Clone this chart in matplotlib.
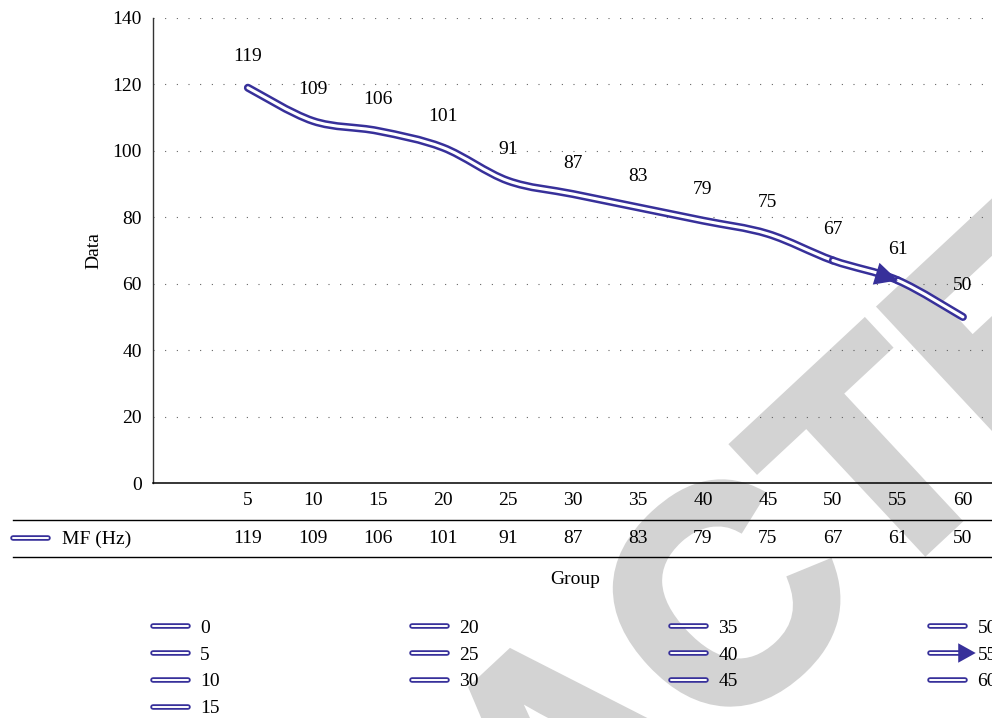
import matplotlib
matplotlib.use('Agg')
import matplotlib.pyplot as plt
import matplotlib.patheffects as pe
import matplotlib.transforms as mtransforms
from matplotlib.path import Path
from matplotlib.patches import PathPatch
from matplotlib.lines import Line2D
from matplotlib.legend_handler import HandlerLine2D

# MF measured per group
groups = [5, 10, 15, 20, 25, 30, 35, 40, 45, 50, 55, 60]
mf_hz = [119, 109, 106, 101, 91, 87, 83, 79, 75, 67, 61, 50]
legend_groups = [0, 5, 10, 15, 20, 25, 30, 35, 40, 45, 50, 55, 60]
y_ticks = [0, 20, 40, 60, 80, 100, 120, 140]
series_name = 'MF (Hz)'
arrow_group = 55

BLUE = '#37309a'
STAMP = '#d3d3d3'
W, H = 992, 718

plt.rcParams['font.family'] = 'Liberation Serif'
plt.rcParams['font.size'] = 14


def double_line(lw_outer, lw_inner):
    return dict(color='white', lw=lw_inner,
                path_effects=[pe.Stroke(linewidth=lw_outer, foreground=BLUE), pe.Normal()])


def smooth_path(xs, ys, i0, i1):
    # cardinal spline through the points, as cubic bezier pieces
    n = len(xs)
    verts = [(xs[i0], ys[i0])]
    codes = [Path.MOVETO]
    for i in range(i0, i1):
        a = max(i - 1, 0)
        b = min(i + 2, n - 1)
        c1 = (xs[i] + (xs[i + 1] - xs[a]) / 6, ys[i] + (ys[i + 1] - ys[a]) / 6)
        c2 = (xs[i + 1] - (xs[b] - xs[i]) / 6, ys[i + 1] - (ys[b] - ys[i]) / 6)
        verts += [c1, c2, (xs[i + 1], ys[i + 1])]
        codes += [Path.CURVE4] * 3
    return Path(verts, codes)


class EndArrowHandler(HandlerLine2D):
    # put the marker at the right end of the legend swatch
    def create_artists(self, *args, **kwargs):
        artists = super().create_artists(*args, **kwargs)
        artists[0].set_markevery([2])
        return artists


fig = plt.figure(figsize=(W / 100, H / 100), dpi=100)
ax = fig.add_axes([153 / W, 235 / H, 845 / W, 465 / H])
ax.set_facecolor('none')

# background stamp
fig.text(0.639, -0.146, 'RETRACTED', fontsize=218, family='Liberation Sans',
         weight='bold', color=STAMP, rotation=43, rotation_mode='anchor',
         ha='center', va='baseline', zorder=-1,
         path_effects=[pe.withStroke(linewidth=6, foreground=STAMP, joinstyle='miter')])

ax.set_xlim(-2.3, 62.7)
ax.set_ylim(0, 140)
ax.set_yticks(y_ticks)
ax.set_xticks(groups)
ax.set_xticklabels([str(g) for g in groups])
ax.tick_params(axis='both', length=0)
ax.tick_params(axis='x', pad=6.8)
ax.tick_params(axis='y', pad=8)
ax.yaxis.grid(True, color='#555555', linestyle=(0, (0.9, 9.6)), linewidth=0.8)
ax.set_axisbelow(True)
for s in ['top', 'right']:
    ax.spines[s].set_visible(False)
ax.spines['left'].set_color('#333333')
ax.spines['left'].set_linewidth(1.0)
ax.spines['bottom'].set_color('black')
ax.spines['bottom'].set_linewidth(1.1)

ax.set_ylabel('Data', labelpad=7)
ax.set_xlabel('Group')
ax.xaxis.set_label_coords(0.5, -0.189)

# smoothed curve in three pieces: up to 50, 50 -> 55 (arrow), 55 -> 60
n = len(groups)
i_arrow = groups.index(arrow_group)
pieces = [(0, i_arrow - 1), (i_arrow - 1, i_arrow), (i_arrow, n - 1)]
for i0, i1 in pieces:
    patch = PathPatch(smooth_path(groups, mf_hz, i0, i1), facecolor='none',
                      edgecolor='white', lw=2.2, capstyle='round', zorder=3,
                      path_effects=[pe.Stroke(linewidth=5.8, foreground=BLUE), pe.Normal()])
    ax.add_patch(patch)

ax.annotate('', xy=(groups[i_arrow], mf_hz[i_arrow]),
            xytext=(groups[i_arrow - 1], mf_hz[i_arrow - 1]),
            arrowprops=dict(arrowstyle='-|>,head_length=0.4,head_width=0.2',
                            color=BLUE, lw=0, shrinkA=0, shrinkB=0,
                            mutation_scale=41), zorder=4)

for g, v in zip(groups, mf_hz):
    ax.annotate(str(v), (g, v), xytext=(0, 22.3), textcoords='offset points',
                ha='center', va='center', zorder=5)

# data table under the axis
trans = mtransforms.blended_transform_factory(ax.transData, ax.transAxes)
for g, v in zip(groups, mf_hz):
    ax.text(g, -0.1204, str(v), transform=trans, ha='center', va='center', clip_on=False)
fig.text(62 / W, 1 - 539 / H, series_name, ha='left', va='center')
fig.add_artist(Line2D([13 / W, 48 / W], [1 - 538 / H] * 2, transform=fig.transFigure,
                      solid_capstyle='round', **double_line(4, 1.4)))
for y in [520, 557]:
    fig.add_artist(Line2D([13 / W, 1], [1 - y / H] * 2, transform=fig.transFigure,
                          color='black', lw=1.0))

# group legend
handles = []
handler_map = {}
for g in legend_groups:
    h = Line2D([], [], solid_capstyle='round', label=str(g), **double_line(4, 1.4))
    if g == arrow_group:
        h.set_marker('>')
        h.set_markersize(7)
        h.set_markerfacecolor(BLUE)
        h.set_markeredgecolor(BLUE)
        handler_map[h] = EndArrowHandler()
    handles.append(h)

fig.legend(handles=handles, handler_map=handler_map, ncol=4, loc='upper left',
           bbox_to_anchor=(153 / W, 1 - 619 / H), bbox_transform=fig.transFigure,
           frameon=False, borderpad=0, borderaxespad=0, handlelength=1.8,
           handletextpad=0.62, columnspacing=9.9, labelspacing=0.48)

fig.savefig('out.png', dpi=100, facecolor='white')
